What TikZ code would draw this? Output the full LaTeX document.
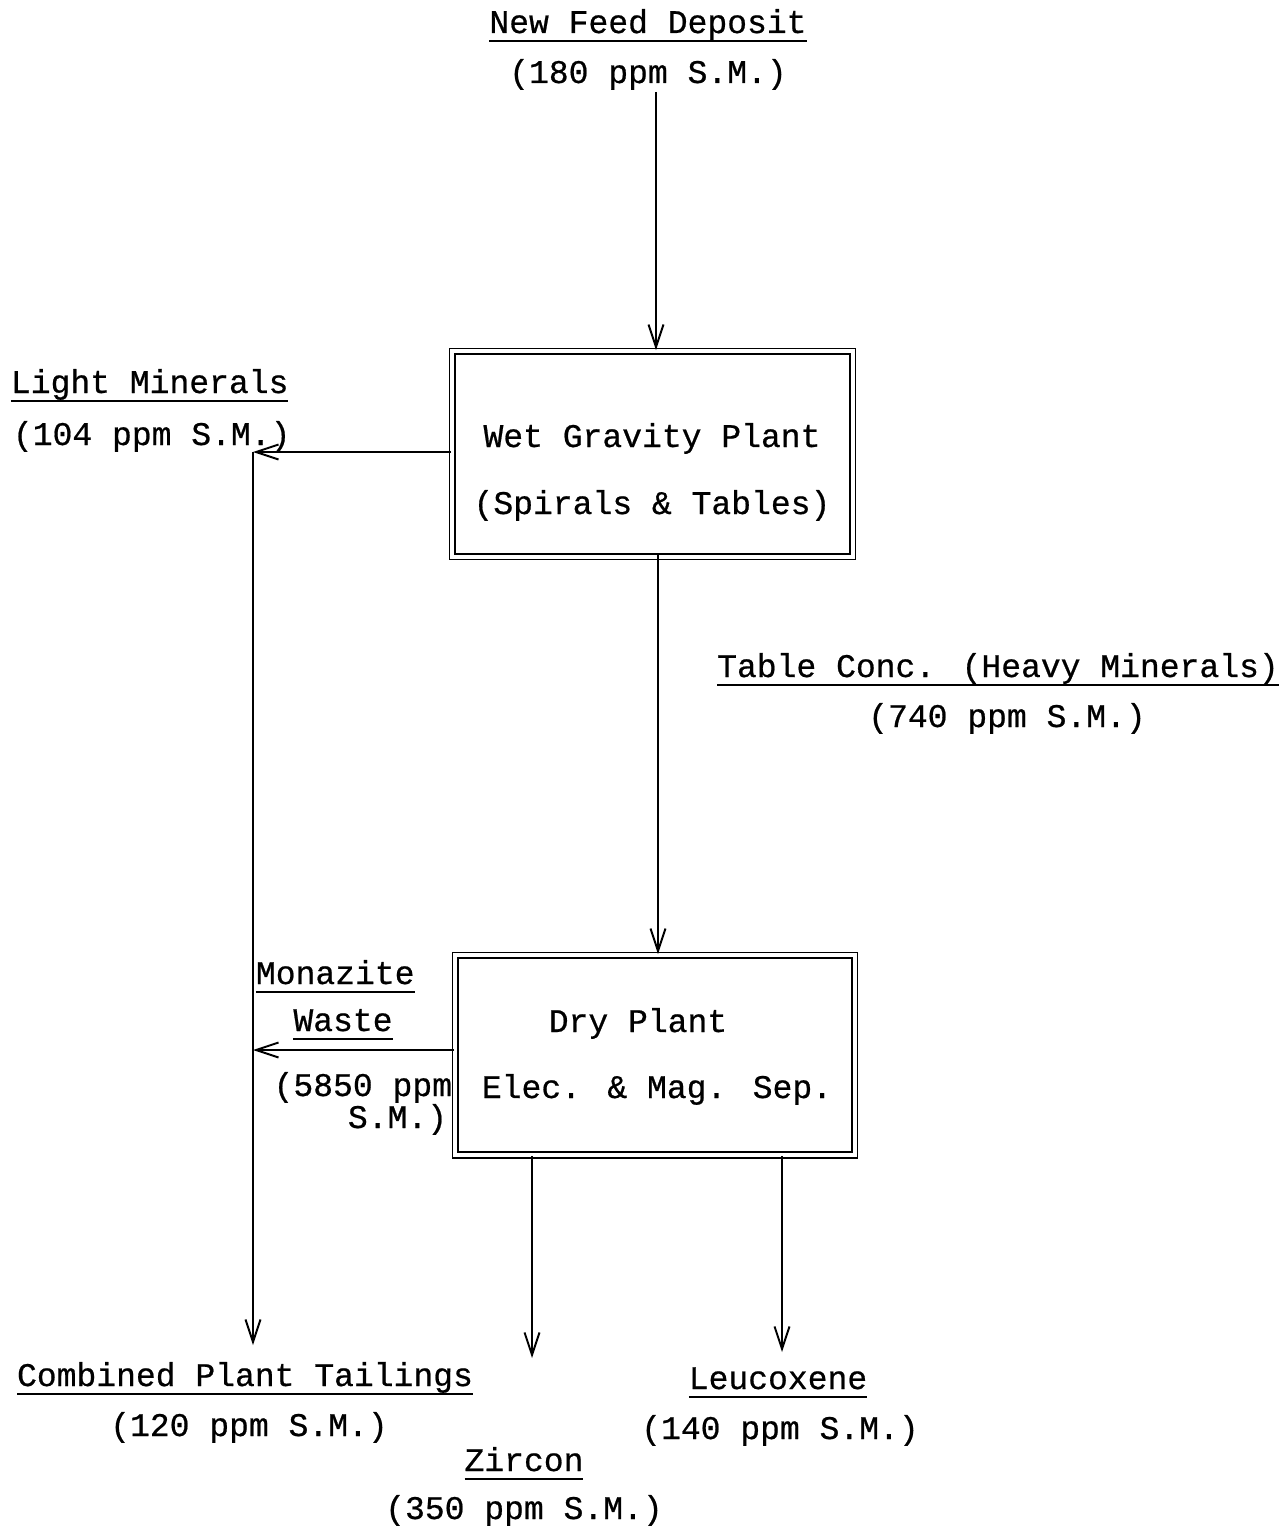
\documentclass[tikz,border=0pt]{standalone}
\usepackage{fontspec}
\usepackage{tikz}
\usetikzlibrary{arrows.meta}
\newfontfamily\twriter[FakeBold=0.6]{Liberation Mono}
\newcommand\twfont{\twriter\fontsize{18.8}{22}\selectfont}
\newcommand\uln[1]{\setbox0\hbox{#1}\rlap{\rule[-5pt]{\wd0}{1pt}}\box0}

\begin{document}
\begin{tikzpicture}[x=0.02cm,y=-0.02cm,line width=1.1pt,
  >={Straight Barb[length=0.45cm,width=0.3cm]},
  lbl/.style={anchor=base,inner sep=0pt,font=\twfont},
  plant/.style={draw,double,double distance=1.8pt,inner sep=0pt}]
\useasboundingbox (0,0) rectangle (1283,1527);

\node[lbl] (feed) at (648,33) {\uln{New Feed Deposit}};
\node[lbl] (feedppm) at (648,83) {(180 ppm S.M.)};

\node[plant,minimum width=8.02cm,minimum height=4.12cm] (wet) at (652.5,454) {};
\node[lbl] (wet1) at (652,447) {Wet Gravity Plant};
\node[lbl] (wet2) at (652,514) {(Spirals \& Tables)};

\node[lbl,anchor=base west] (light) at (10,393) {\uln{Light Minerals}};
\node[lbl,anchor=base west] (lightppm) at (12,445) {(104 ppm S.M.)};

\node[lbl] (conc) at (998,677) {\uln{Table Conc. (Heavy Minerals)}};
\node[lbl] (concppm) at (1007,727) {(740 ppm S.M.)};

\node[plant,minimum width=8cm,minimum height=4cm] (dry) at (655,1055) {};
\node[lbl] (dry1) at (638,1032) {Dry Plant};
\node[lbl] (dry2) at (657,1098) {Elec. \& Mag. Sep.};

\node[lbl,anchor=base west] (mona) at (255,984) {\uln{Monazite}};
\node[lbl] (waste) at (343,1031) {\uln{Waste}};
\node[lbl,anchor=base east] (monappm) at (453,1096) {(5850 ppm};
\node[lbl,anchor=base east] (monasm) at (448,1128) {S.M.)};

\node[lbl] (tail) at (245,1386) {\uln{Combined Plant Tailings}};
\node[lbl] (tailppm) at (249,1436) {(120 ppm S.M.)};
\node[lbl] (leuc) at (778,1389) {\uln{Leucoxene}};
\node[lbl] (leucppm) at (780,1439) {(140 ppm S.M.)};
\node[lbl] (zirc) at (524,1471) {\uln{Zircon}};
\node[lbl] (zircppm) at (524,1519) {(350 ppm S.M.)};

\coordinate (lm) at (253,452);
\coordinate (lmend) at (253,1345);
\coordinate (zr) at (532,1358);
\coordinate (lx) at (782,1352);
\coordinate (fd) at (656,92);
\coordinate (tc) at (658,555);

\draw[->] (fd) -- (fd |- wet.north);
\draw[->] (tc) -- (tc |- dry.north);
\draw[->] (wet.west |- lm) -- (lm);
\draw[->] (lm) -- (lmend);
\draw[->] ([yshift=0.1cm]dry.west) -- ([yshift=0.1cm]dry.west -| lm);
\draw[->] (dry.south -| zr) -- (zr);
\draw[->] (dry.south -| lx) -- (lx);
\end{tikzpicture}
\end{document}
